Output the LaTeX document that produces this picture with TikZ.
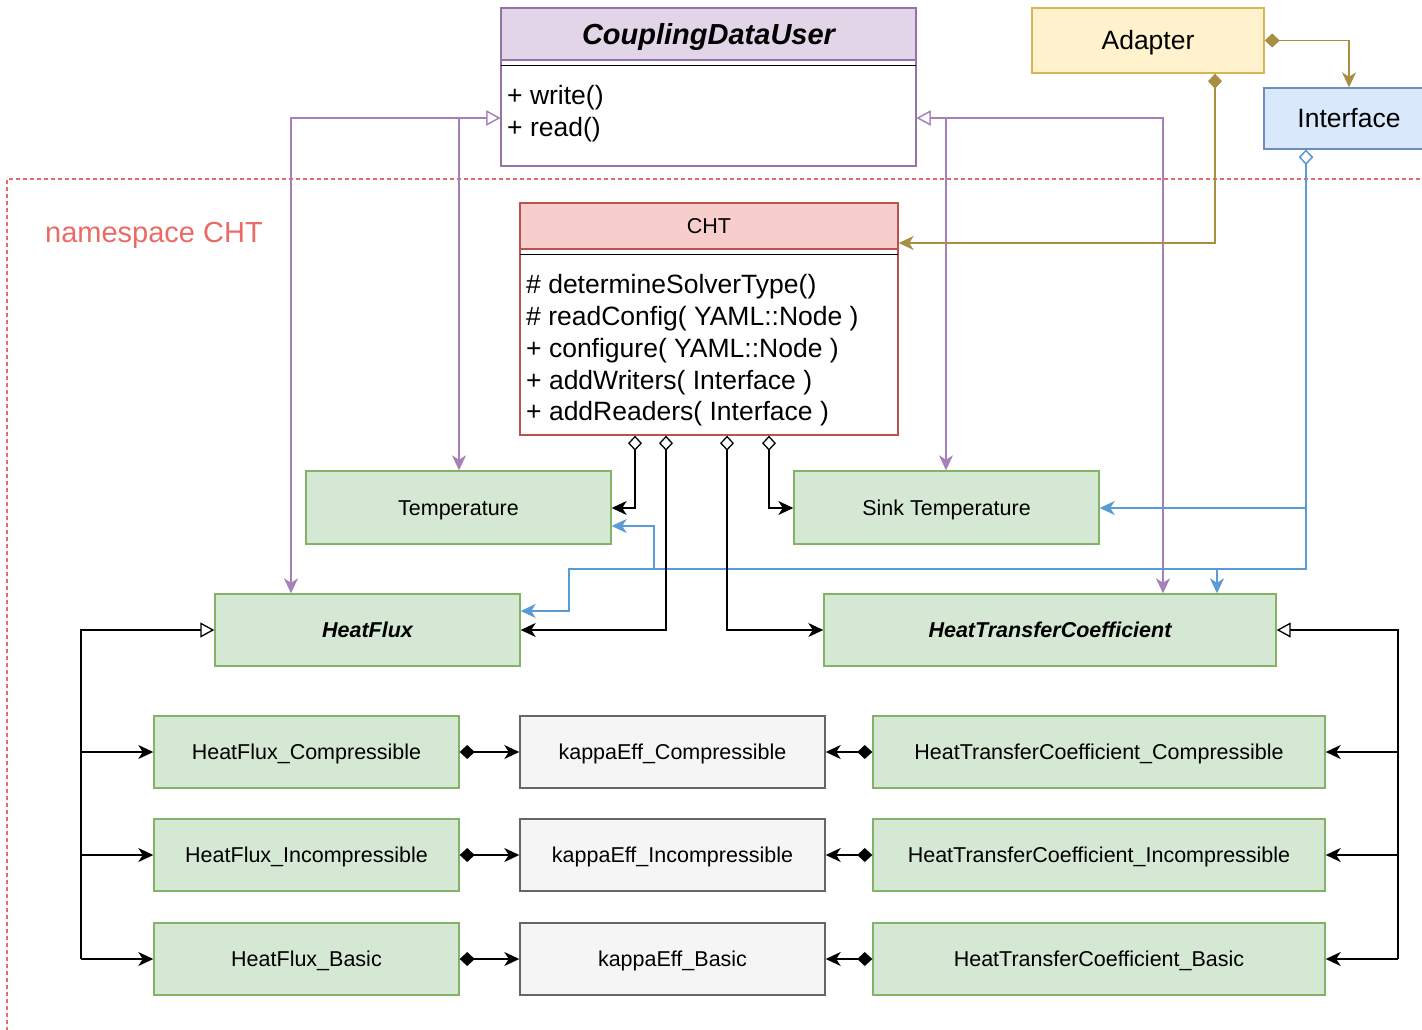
\documentclass[tikz,border=0pt]{standalone}
\usepackage{fontspec}
\setmainfont{Liberation Sans}
\usetikzlibrary{arrows.meta}
\definecolor{gfill}{HTML}{D5E8D4}
\definecolor{gdraw}{HTML}{82B366}
\definecolor{kfill}{HTML}{F5F5F5}
\definecolor{kdraw}{HTML}{666666}
\definecolor{pfill}{HTML}{E1D5E7}
\definecolor{pdraw}{HTML}{9673A6}
\definecolor{pline}{HTML}{A680B8}
\definecolor{rfill}{HTML}{F8CECC}
\definecolor{rdraw}{HTML}{B85450}
\definecolor{yfill}{HTML}{FFF2CC}
\definecolor{ydraw}{HTML}{D6B656}
\definecolor{yline}{HTML}{A88E40}
\definecolor{bfill}{HTML}{DAE8FC}
\definecolor{bdraw}{HTML}{6C8EBF}
\definecolor{bline}{HTML}{5B9BD5}
\definecolor{nsred}{HTML}{EA6B66}
\tikzset{
  inh/.style={arrows={Triangle[fill=white,length=14pt,width=15pt]-Stealth[length=15pt,width=14pt,inset=4.5pt]}},
  genonly/.style={arrows={Triangle[fill=white,length=14pt,width=15pt]-}},
  agg/.style={arrows={Diamond[fill=white,length=15pt,width=14pt]-Stealth[length=15pt,width=14pt,inset=4.5pt]}},
  cmp/.style={arrows={Diamond[length=15pt,width=14pt]-Stealth[length=15pt,width=14pt,inset=4.5pt]}},
  toarr/.style={arrows={-Stealth[length=15pt,width=14pt,inset=4.5pt]}},
  box/.style={draw, line width=1.4pt, inner sep=0pt, text height=15.4pt, text depth=0pt, font=\fontsize{21.5}{26}\selectfont},
  bigbox/.style={box, text height=19pt, font=\fontsize{26.5}{32}\selectfont},
  gbox/.style={box, fill=gfill, draw=gdraw, minimum height=72pt},
  kbox/.style={box, fill=kfill, draw=kdraw, minimum height=72pt, minimum width=305pt},
  conn/.style={line width=1.3pt},
}
\begin{document}
\begin{tikzpicture}[x=1pt,y=-1pt]
\useasboundingbox (0,0) rectangle (1422,1030);
% namespace
\draw[nsred, line width=1.3pt, dash pattern=on 4pt off 3pt] (7,1045) -- (7,179) -- (1440,179);
\node[text=nsred, inner sep=0pt, font=\fontsize{29}{34}\selectfont, text height=20.8pt, text depth=0pt] (ns) at (154,232) {namespace CHT};

% CouplingDataUser
\node[box, draw=pdraw, fill=white, minimum width=415pt, minimum height=158pt] (cdu) at (708.5,87) {};
\node[box, draw=pdraw, fill=pfill, minimum width=415pt, minimum height=52pt, text height=20.8pt, font=\fontsize{29}{34}\selectfont\bfseries\itshape] (cduh) at (708.5,34) {CouplingDataUser};
\draw[line width=1.3pt] ([xshift=1pt,yshift=-5pt]cduh.south west) -- ([xshift=-1pt,yshift=-5pt]cduh.south east);
\node[anchor=west, align=left, inner sep=0pt, font=\fontsize{26.5}{32}\selectfont] (cdum) at (507,114) {+ write()\\+ read()};

% Adapter, Interface
\node[bigbox, fill=yfill, draw=ydraw, minimum width=232pt, minimum height=65pt] (adapter) at (1148,40.5) {Adapter};
\node[bigbox, fill=bfill, draw=bdraw, minimum width=170pt, minimum height=61pt] (iface) at (1349,118.5) {Interface};

% CHT
\node[box, draw=rdraw, fill=white, minimum width=378pt, minimum height=232pt] (cht) at (709,319) {};
\node[box, draw=rdraw, fill=rfill, minimum width=378pt, minimum height=46pt] (chth) at (709,226) {CHT};
\draw[line width=1.3pt] ([xshift=1pt,yshift=-4.5pt]chth.south west) -- ([xshift=-1pt,yshift=-4.5pt]chth.south east);
\node[anchor=west, align=left, inner sep=0pt, font=\fontsize{26.5}{31.8}\selectfont] (chtm) at (526,350.5) {\# determineSolverType()\\\# readConfig( YAML::Node )\\+ configure( YAML::Node )\\+ addWriters( Interface )\\+ addReaders( Interface )};

% data classes
\node[gbox, minimum width=305pt, minimum height=73pt] (temp) at (458.5,507.5) {Temperature};
\node[gbox, minimum width=305pt, minimum height=73pt] (sink) at (946.5,507.5) {Sink Temperature};
\node[gbox, minimum width=305pt, font=\fontsize{21.5}{26}\selectfont\bfseries\itshape] (hf) at (367.5,630) {HeatFlux};
\node[gbox, minimum width=452pt, font=\fontsize{21.5}{26}\selectfont\bfseries\itshape] (htc) at (1050,630) {HeatTransferCoefficient};

\node[gbox, minimum width=305pt] (hfc) at (306.5,752) {HeatFlux\_Compressible};
\node[gbox, minimum width=305pt] (hfi) at (306.5,855) {HeatFlux\_Incompressible};
\node[gbox, minimum width=305pt] (hfb) at (306.5,959) {HeatFlux\_Basic};
\node[kbox] (kc) at (672.5,752) {kappaEff\_Compressible};
\node[kbox] (ki) at (672.5,855) {kappaEff\_Incompressible};
\node[kbox] (kb) at (672.5,959) {kappaEff\_Basic};
\node[gbox, minimum width=452pt] (htcc) at (1099,752) {HeatTransferCoefficient\_Compressible};
\node[gbox, minimum width=452pt] (htci) at (1099,855) {HeatTransferCoefficient\_Incompressible};
\node[gbox, minimum width=452pt] (htcb) at (1099,959) {HeatTransferCoefficient\_Basic};

% bend coordinates
\coordinate (pL1) at (291,118);
\coordinate (pL2) at (459,118);
\coordinate (pR1) at (946,118);
\coordinate (pR2) at (1163,118);
\coordinate (a1) at (1349,40.5);
\coordinate (a2) at (1215,243);
\coordinate (b1) at (1306,508);
\coordinate (b2) at (1306,569);
\coordinate (b3) at (1217,569);
\coordinate (b4) at (654,569);
\coordinate (b5) at (654,526);
\coordinate (b6) at (569,569);
\coordinate (b7) at (569,611);
\coordinate (c1) at (635,508);
\coordinate (c2) at (666,630);
\coordinate (c3) at (727,630);
\coordinate (c4) at (769,508);
\coordinate (d0) at (81,630);
\coordinate (d1) at (81,959);
\coordinate (e0) at (1398,630);
\coordinate (e1) at (1398,959);

% inheritance from CouplingDataUser
\draw[conn, pline, inh] (cdu.west |- pL1) -- (pL1) -- (hf.north -| pL1);
\draw[conn, pline, inh] (cdu.west |- pL2) -- (pL2) -- (temp.north -| pL2);
\draw[conn, pline, inh] (cdu.east |- pR1) -- (pR1) -- (sink.north -| pR1);
\draw[conn, pline, inh] (cdu.east |- pR2) -- (pR2) -- (htc.north -| pR2);

% Adapter compositions
\draw[conn, yline, cmp] (adapter.east) -- (a1) -- (iface.north);
\draw[conn, yline, cmp] (adapter.south -| a2) -- (a2) -- (cht.east |- a2);

% Interface aggregations
\draw[conn, bline, agg] (iface.south -| b1) -- (b1) -- (sink.east |- b1);
\draw[conn, bline, agg] (iface.south -| b1) -- (b2) -- (b3) -- (htc.north -| b3);
\draw[conn, bline, agg] (iface.south -| b1) -- (b2) -- (b4) -- (b5) -- (temp.east |- b5);
\draw[conn, bline, agg] (iface.south -| b1) -- (b2) -- (b6) -- (b7) -- (hf.east |- b7);

% CHT aggregations
\draw[conn, agg] (cht.south -| c1) -- (c1) -- (temp.east |- c1);
\draw[conn, agg] (cht.south -| c2) -- (c2) -- (hf.east |- c2);
\draw[conn, agg] (cht.south -| c3) -- (c3) -- (htc.west |- c3);
\draw[conn, agg] (cht.south -| c4) -- (c4) -- (sink.west |- c4);

% HeatFlux hierarchy
\draw[conn, genonly] (hf.west) -- (d0) -- (d1);
\draw[conn, toarr] (d0 |- hfc.west) -- (hfc.west);
\draw[conn, toarr] (d0 |- hfi.west) -- (hfi.west);
\draw[conn, toarr] (d1) -- (hfb.west);

% HTC hierarchy
\draw[conn, genonly] (htc.east) -- (e0) -- (e1);
\draw[conn, toarr] (e0 |- htcc.east) -- (htcc.east);
\draw[conn, toarr] (e0 |- htci.east) -- (htci.east);
\draw[conn, toarr] (e1) -- (htcb.east);

% kappaEff compositions
\draw[conn, cmp] (hfc.east) -- (kc.west);
\draw[conn, cmp] (hfi.east) -- (ki.west);
\draw[conn, cmp] (hfb.east) -- (kb.west);
\draw[conn, cmp] (htcc.west) -- (kc.east);
\draw[conn, cmp] (htci.west) -- (ki.east);
\draw[conn, cmp] (htcb.west) -- (kb.east);
\end{tikzpicture}
\end{document}
